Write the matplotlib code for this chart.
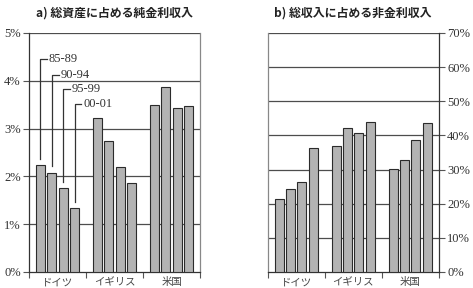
import matplotlib
matplotlib.use("Agg")
import matplotlib.pyplot as plt
import numpy as np

categories = ["ドイツ", "イギリス", "米国"]
periods = ["85-89", "90-94", "95-99", "00-01"]
# a) net interest income / total assets (%)
net_interest = {
    "85-89": [2.23, 3.22, 3.49],
    "90-94": [2.08, 2.75, 3.88],
    "95-99": [1.76, 2.20, 3.44],
    "00-01": [1.33, 1.86, 3.47],
}
# b) non-interest income / total income (%)
non_interest = {
    "85-89": [21.3, 36.8, 30.1],
    "90-94": [24.2, 42.3, 32.8],
    "95-99": [26.4, 40.6, 38.6],
    "00-01": [36.3, 43.8, 43.7],
}
left_ticks = [0, 1, 2, 3, 4, 5]
right_ticks = [0, 10, 20, 30, 40, 50, 60, 70]
label_levels = [4.46, 4.13, 3.82, 3.51]

title_font = ["Noto Sans CJK JP", "DejaVu Sans"]
cat_font = ["Noto Sans CJK JP", "DejaVu Sans"]
num_font = ["Liberation Serif", "DejaVu Serif"]

fig = plt.figure(figsize=(4.73, 2.88), dpi=100)
axL = fig.add_axes([29/473, 16/288, 171/473, 239/288])
axR = fig.add_axes([267.7/473, 16/288, 171/473, 239/288])

offsets = [-0.3, -0.1, 0.1, 0.3]
width = 0.16
x = np.arange(len(categories))
bar_fc = "#b3b3b3"
edge = "#2b2b2b"
grid_c = "#4d4d4d"

def style(ax, ymax, ticks, fmt, side):
    for i, p in enumerate(periods):
        vals = net_interest[p] if ax is axL else non_interest[p]
        ax.bar(x + offsets[i], vals, width, color=bar_fc, edgecolor=edge,
               linewidth=0.8, zorder=3)
    ax.set_xlim(-0.5, 2.5)
    ax.set_ylim(0, ymax)
    ax.set_yticks(ticks)
    ax.set_yticklabels([fmt(t) for t in ticks], family=num_font,
                       fontsize=9, color="#333333")
    for t in ticks[1:]:
        ax.axhline(t, color=grid_c, lw=0.9, zorder=1)
    ax.set_xticks([-0.5, 0.5, 1.5, 2.5])
    ax.set_xticklabels([])
    ax.tick_params(axis="x", direction="out", length=4, width=0.8, color="#555555")
    ax.tick_params(axis="y", direction="out", length=4, width=0.8, color="#555555",
                   pad=2)
    for j, c in enumerate(categories):
        ax.text(j, -0.022, c, transform=ax.get_xaxis_transform(), ha="center",
                va="top", family=cat_font, fontsize=7.5, color="#444444")
    ax.spines["top"].set_visible(False)
    if side == "left":
        ax.spines["left"].set_color("#333333")
        ax.spines["right"].set_color("#888888")
    else:
        ax.spines["left"].set_color("#888888")
        ax.spines["right"].set_color("#333333")
        ax.yaxis.tick_right()
    ax.spines["bottom"].set_color("#333333")
    for s in ax.spines.values():
        s.set_linewidth(0.9)

style(axL, 5, left_ticks, lambda t: f"{t}%", "left")
style(axR, 70, right_ticks, lambda t: f"{t}%", "right")

axL.set_title("a) 総資産に占める純金利収入", family=title_font, fontsize=8.6,
              fontweight="bold", pad=12, color="#222222")
axR.set_title("b) 総収入に占める非金利収入", family=title_font, fontsize=8.6,
              fontweight="bold", pad=12, color="#222222")

# leader lines for period labels (Germany group)
for i, p in enumerate(periods):
    bx = x[0] + offsets[i]
    top = net_interest[p][0]
    lvl = label_levels[i]
    axL.plot([bx, bx, bx + 0.12], [top + 0.13, lvl, lvl], color="#333333",
             lw=0.9, zorder=4)
    axL.text(bx + 0.15, lvl, p, va="center", ha="left", family=num_font,
             fontsize=9, color="#333333", zorder=5)

fig.savefig("out.png", dpi=100)
